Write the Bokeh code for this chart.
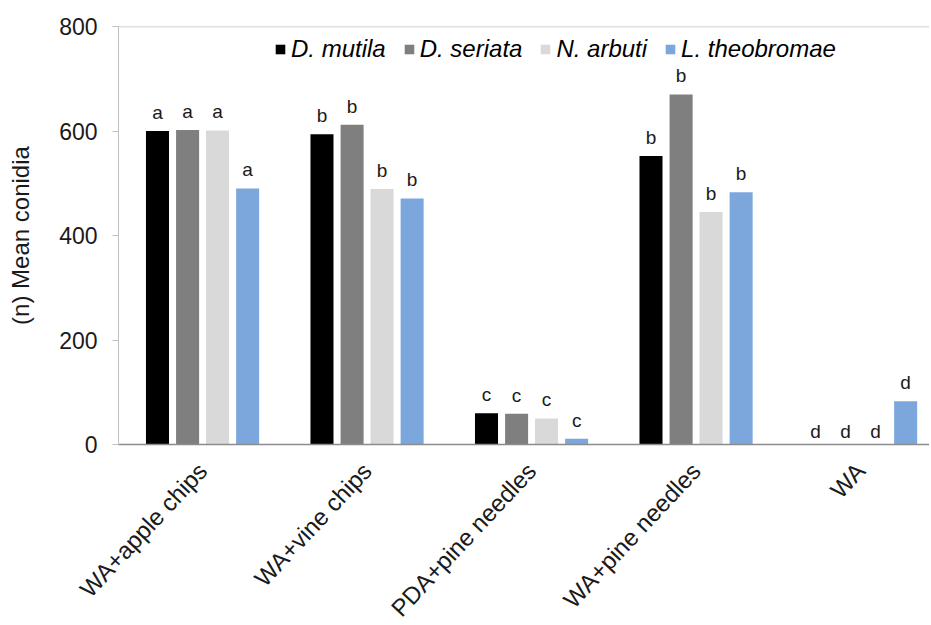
import math
from bokeh.plotting import figure
from bokeh.models import ColumnDataSource, FixedTicker, Span, Legend, LegendItem
from bokeh.core.properties import value
from bokeh.embed import file_html
from bokeh.resources import INLINE

categories = ["WA+apple chips", "WA+vine chips", "PDA+pine needles", "WA+pine needles", "WA"]
series_names = ["D. mutila", "D. seriata", "N. arbuti", "L. theobromae"]
d_mutila = [600, 594, 60, 552, 0]
d_seriata = [602, 612, 59, 670, 0]
n_arbuti = [601, 489, 50, 445, 0]
l_theobromae = [490, 471, 11, 483, 83]
group_letters = ["a", "b", "c", "b", "d"]
y_ticks = [0, 200, 400, 600, 800]

series_values = [d_mutila, d_seriata, n_arbuti, l_theobromae]
colors = ["#000000", "#7f7f7f", "#d9d9d9", "#7ba7dd"]
offsets = [-0.274, -0.091, 0.091, 0.274]
bar_w = 0.14
FONT = "Liberation Sans"

p = figure(frame_width=811, frame_height=418,
           x_range=(-0.511, 4.419), y_range=(0, 800),
           output_backend="svg", toolbar_location=None,
           min_border_left=118, min_border_right=0,
           min_border_top=26, min_border_bottom=178)
p.outline_line_color = None
p.xgrid.visible = False
p.ygrid.visible = False
p.background_fill_color = "white"

p.add_layout(Span(location=800, dimension="width", line_color="#c0c0c0", line_width=1.5))

items = []
for name, vals, col, off in zip(series_names, series_values, colors, offsets):
    xs = [i + off for i in range(len(categories))]
    src = ColumnDataSource(dict(
        x=xs, top=vals, lab=group_letters,
        yo=[-3 if v == 0 else -8 for v in vals]))
    r = p.vbar(x="x", top="top", width=bar_w, bottom=0, source=src,
               fill_color=col, line_color=None)
    p.text(x="x", y="top", text="lab", source=src, y_offset="yo",
           text_align="center", text_baseline="bottom",
           text_font=value(FONT), text_font_size="19px", text_color="#1a1a1a")
    items.append(LegendItem(label=name, renderers=[r]))

legend = Legend(items=items, orientation="horizontal", location=(156, 381),
                border_line_color=None, background_fill_alpha=0,
                label_text_font=FONT, label_text_font_style="italic",
                label_text_font_size="24px", label_text_color="#000000",
                glyph_width=12, glyph_height=12, label_height=12,
                label_standoff=5, spacing=17, padding=0, margin=0)
p.add_layout(legend)

# y axis
p.yaxis.ticker = FixedTicker(ticks=y_ticks)
p.yaxis.minor_tick_line_color = None
p.yaxis.major_tick_in = 0
p.yaxis.major_tick_out = 6
p.yaxis.axis_line_color = "#bfbfbf"
p.yaxis.major_tick_line_color = "#bfbfbf"
p.yaxis.major_label_text_font = FONT
p.yaxis.major_label_text_font_size = "23px"
p.yaxis.major_label_text_color = "#1a1a1a"
p.yaxis.major_label_standoff = 15
p.yaxis.axis_label = "(n) Mean conidia"
p.yaxis.axis_label_text_font = FONT
p.yaxis.axis_label_text_font_style = "normal"
p.yaxis.axis_label_text_font_size = "24px"
p.yaxis.axis_label_text_color = "#1a1a1a"
p.yaxis.axis_label_standoff = 22

# x axis
p.xaxis.ticker = FixedTicker(ticks=list(range(len(categories))))
p.xaxis.major_label_overrides = {i: c for i, c in enumerate(categories)}
p.xaxis.major_label_orientation = 0.82
p.xaxis.minor_tick_line_color = None
p.xaxis.major_tick_line_color = None
p.xaxis.axis_line_color = "#8c8c8c"
p.xaxis.axis_line_width = 1.5
p.xaxis.major_label_text_font = FONT
p.xaxis.major_label_text_font_size = "24px"
p.xaxis.major_label_text_color = "#1a1a1a"
p.xaxis.major_label_standoff = 16

open("out.html", "w").write(file_html(p, INLINE))
